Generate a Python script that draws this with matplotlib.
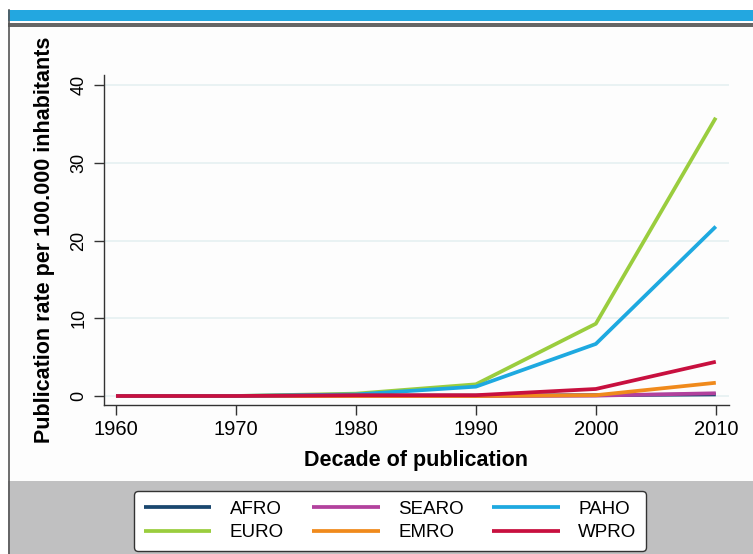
import matplotlib
matplotlib.use("Agg")
from matplotlib import pyplot as plt
from matplotlib.patches import Rectangle
from matplotlib.lines import Line2D

# Dados
decadas = [1960, 1970, 1980, 1990, 2000, 2010]
afro = [0.0, 0.0, 0.05, 0.05, 0.1, 0.2]
searo = [0.0, 0.0, 0.0, 0.0, 0.05, 0.35]
paho = [0.0, 0.0, 0.2, 1.2, 6.7, 21.8]
euro = [0.0, 0.0, 0.3, 1.5, 9.3, 35.8]
emro = [0.0, 0.0, 0.0, 0.0, 0.1, 1.7]
wpro = [0.0, 0.0, 0.1, 0.1, 0.9, 4.4]

series = [
    ('AFRO', afro, '#1a476f'),
    ('EURO', euro, '#9acd3e'),
    ('SEARO', searo, '#b2419d'),
    ('EMRO', emro, '#f08a1c'),
    ('PAHO', paho, '#1ea9e0'),
    ('WPRO', wpro, '#c8103f'),
]

fonte = ['Liberation Sans', 'DejaVu Sans']

W, H = 753, 554
fig = plt.figure(figsize=(W / 100, H / 100), dpi=100)
fig.patch.set_facecolor('white')


def px_rect(x0, y0, x1, y1, **kw):
    # retângulo em pixels (origem no topo)
    fig.add_artist(Rectangle((x0 / W, 1 - y1 / H), (x1 - x0) / W, (y1 - y0) / H,
                             transform=fig.transFigure, zorder=-5, **kw))


# faixas decorativas
px_rect(8, 10, W, 21, facecolor='#23a7e0', edgecolor='none')
px_rect(8, 23, W, 27, facecolor='#666666', edgecolor='none')
px_rect(8, 27, W, 481, facecolor='#fdfdfd', edgecolor='none')
px_rect(8, 481, W, H, facecolor='#c0c0c1', edgecolor='none')
fig.add_artist(Line2D([8.5 / W, 8.5 / W], [0, 1 - 10 / H], transform=fig.transFigure,
                      color='#555555', lw=1.2, zorder=-4))

ax = fig.add_axes([104 / W, 1 - 405 / H, (729 - 104) / W, (405 - 75) / H])
ax.set_facecolor('none')

for nome, valores, cor in series:
    ax.plot(decadas, valores, color=cor, lw=2.7, label=nome, solid_capstyle='butt')

ax.set_xlim(1959, 2011.1)
ax.set_ylim(-1.16, 41.3)
ax.set_xticks(decadas)
ax.set_yticks([0, 10, 20, 30, 40])
ax.grid(axis='y', color='#e6f0f2', lw=1.2)
ax.set_axisbelow(True)

for s in ['top', 'right']:
    ax.spines[s].set_visible(False)
for s in ['left', 'bottom']:
    ax.spines[s].set_color('#333333')
    ax.spines[s].set_linewidth(1)

ax.tick_params(axis='x', length=7, width=1, color='#333333', pad=4)
ax.tick_params(axis='y', length=7, width=1, color='#333333', pad=5)
for t in ax.get_xticklabels():
    t.set_family(fonte)
    t.set_fontsize(14.5)
for t in ax.get_yticklabels():
    t.set_family(fonte)
    t.set_fontsize(13)
    t.set_rotation(90)
    t.set_va('center')

ax.set_xlabel('Decade of publication', family=fonte, fontsize=15.5,
              fontweight='bold', labelpad=8)
ax.set_ylabel('Publication rate per 100.000 inhabitants', family=fonte,
              fontsize=15.5, fontweight='bold', labelpad=11)

leg = fig.legend(loc='center', bbox_to_anchor=(390 / W, 1 - 521 / H), ncol=3,
                 prop={'family': fonte, 'size': 13.5}, frameon=True, fancybox=True,
                 handlelength=3.6, handletextpad=1.0, columnspacing=1.5,
                 labelspacing=0.35, borderpad=0.5)
leg.get_frame().set_edgecolor('#333333')
leg.get_frame().set_linewidth(1)
leg.get_frame().set_facecolor('white')
leg.get_frame().set_alpha(1)

fig.savefig('out.png', dpi=100)
